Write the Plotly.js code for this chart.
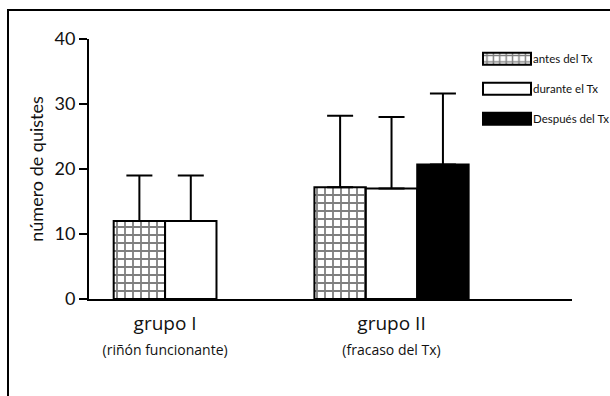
<!DOCTYPE html>
<html>
<head>
<meta charset="utf-8">
<script src="https://cdn.plot.ly/plotly-3.0.1.min.js"></script>
<style>
html,body{margin:0;padding:0;background:#fff;}
#chart{width:610px;height:396px;}
</style>
</head>
<body>
<div id="chart"></div>
<script>
// ---- data ----
var groups = ["grupo I", "grupo II"];
var groupSub = ["(riñón funcionante)", "(fracaso del Tx)"];
var seriesNames = ["antes del Tx", "durante el Tx", "Después del Tx"];
var antesVals = [12, 17.2];
var antesErr = [7, 11];
var duranteVals = [12, 17];
var duranteErr = [7, 11];
var despuesGroups = ["grupo II"];
var despuesVals = [20.7];
var despuesErr = [10.9];
var yTicks = [0, 10, 20, 30, 40];

var W = 0.227;
var tickText = groups.map(function(g, i){
  return g + '<br><span style="font-size:14px">' + groupSub[i] + '</span>';
});

function errCfg(arr){
  return {type:'data', array:arr, symmetric:false, arrayminus:arr.map(function(){return 0;}),
          color:'#000', thickness:2, width:13};
}

var traces = [
  {type:'bar', name:seriesNames[0], legendgroup:'a', x:groups, y:antesVals,
   width:W, offset:[-W, -1.5*W],
   marker:{color:'#fff', line:{color:'#000', width:2},
           pattern:{shape:'+', size:8, solidity:0.4, fgcolor:'#000', bgcolor:'#fff', fillmode:'overlay'}},
   error_y:errCfg(antesErr)},
  {type:'bar', name:seriesNames[1], legendgroup:'b', x:groups, y:duranteVals,
   width:W, offset:[0, -0.5*W],
   marker:{color:'#fff', line:{color:'#000', width:2}},
   error_y:errCfg(duranteErr)},
  {type:'bar', name:seriesNames[2], legendgroup:'c', x:despuesGroups, y:despuesVals,
   width:W, offset:[0.5*W],
   marker:{color:'#000', line:{color:'#000', width:2}},
   error_y:errCfg(despuesErr)}
];

var baseFont = 'Lato, "Open Sans", sans-serif';
var labelFont = '"Open Sans", Lato, sans-serif';
var layout = {
  width:610, height:396,
  margin:{l:89, r:38, t:39, b:97, pad:0, autoexpand:false},
  paper_bgcolor:'#fff', plot_bgcolor:'#fff',
  barmode:'overlay',
  showlegend:true,
  legend:{x:0.795, y:0.98, xanchor:'left', yanchor:'top',
          font:{family:baseFont, size:11.5, color:'#111'},
          itemwidth:50, tracegroupgap:11, traceorder:'grouped', bgcolor:'rgba(0,0,0,0)'},
  xaxis:{type:'category', range:[-0.336, 1.797], showline:true, linecolor:'#000', linewidth:2,
         ticks:'', tickvals:groups, ticktext:tickText, showgrid:false, zeroline:false,
         ticklabelstandoff:6,
         tickfont:{family:labelFont, size:19, color:'#111'}},
  yaxis:{range:[0,40], tickvals:yTicks, showline:true, linecolor:'#000', linewidth:2,
         ticks:'outside', ticklen:8, tickwidth:2, tickcolor:'#000', showgrid:false, zeroline:false,
         tickfont:{family:baseFont, size:18, color:'#111'},
         title:{text:'número de quistes', font:{family:baseFont, size:18, color:'#111'}, standoff:6}},
  shapes:[{type:'rect', xref:'paper', yref:'paper', x0:-0.1677, x1:1.2, y0:-0.5, y1:1.1115,
           line:{color:'#000', width:2}, fillcolor:'rgba(0,0,0,0)', layer:'above'}]
};

function fixLegend(gd){
  var items = gd.querySelectorAll('.legend .traces');
  items.forEach(function(it){
    var txt = it.querySelector('text.legendtext');
    var paths = it.querySelectorAll('.legendpoints path');
    if (!txt || !paths.length) return;
    var tr = txt.getBoundingClientRect();
    paths.forEach(function(p){
      var ctm = p.getScreenCTM();
      if (!ctm) return;
      var inv = ctm.inverse();
      var svg = p.ownerSVGElement;
      var pt = svg.createSVGPoint();
      pt.x = tr.left - 2; pt.y = tr.top + tr.height / 2;
      var loc = pt.matrixTransform(inv);
      var right = loc.x, left = right - 48;
      p.setAttribute('d', 'M' + right + ',6H' + left + 'V-6H' + right + 'Z');
      p.style.strokeWidth = '2px';
      p.style.stroke = '#000';
    });
  });
}

Plotly.newPlot('chart', traces, layout, {displayModeBar:false, staticPlot:true}).then(function(gd){
  fixLegend(gd);
  setTimeout(function(){ fixLegend(gd); }, 50);
});
</script>
</body>
</html>
